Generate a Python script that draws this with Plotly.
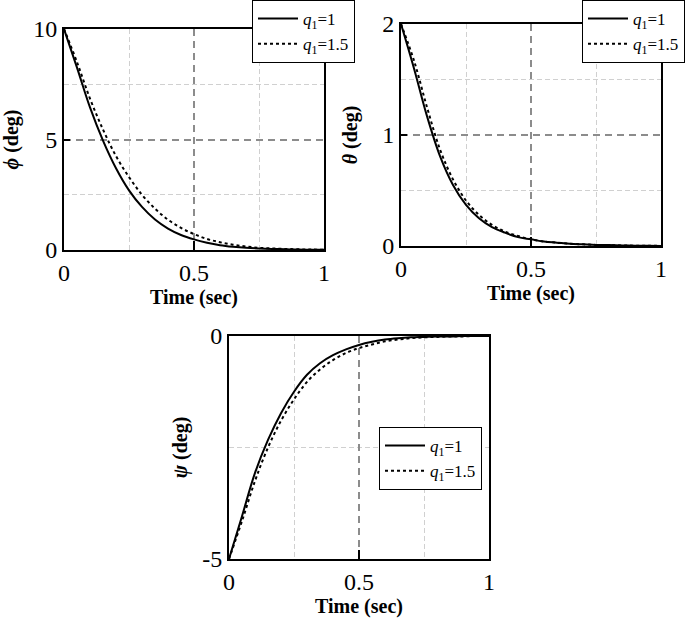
import plotly.graph_objects as go

t = [0, 0.05, 0.1, 0.15, 0.2, 0.25, 0.3, 0.35, 0.4, 0.45, 0.5, 0.55, 0.6, 0.65, 0.7, 0.75, 0.8, 0.85, 0.9, 0.95, 1.0]

phi_q1 = [10, 8.25, 6.45, 4.95, 3.7, 2.7, 1.95, 1.38, 0.97, 0.68, 0.48, 0.33, 0.22, 0.15, 0.1, 0.07, 0.05, 0.03, 0.02, 0.01, 0.01]
phi_q15 = [10, 8.5, 6.85, 5.45, 4.25, 3.3, 2.5, 1.87, 1.37, 1.0, 0.72, 0.5, 0.35, 0.24, 0.16, 0.1, 0.07, 0.05, 0.03, 0.02, 0.01]

theta_q1 = [2, 1.6, 1.17, 0.81, 0.55, 0.37, 0.25, 0.17, 0.12, 0.08, 0.06, 0.04, 0.03, 0.02, 0.015, 0.01, 0.008, 0.005, 0.003, 0.002, 0.001]
theta_q15 = [2, 1.67, 1.25, 0.87, 0.6, 0.41, 0.28, 0.19, 0.13, 0.09, 0.06, 0.04, 0.03, 0.02, 0.015, 0.01, 0.008, 0.005, 0.003, 0.002, 0.001]

psi_q1 = [-5, -4.04, -3.07, -2.33, -1.73, -1.25, -0.87, -0.61, -0.43, -0.3, -0.2, -0.13, -0.08, -0.05, -0.03, -0.02, -0.01, -0.01, 0, 0, 0]
psi_q15 = [-5, -4.15, -3.25, -2.5, -1.9, -1.42, -1.03, -0.75, -0.54, -0.38, -0.27, -0.19, -0.12, -0.08, -0.05, -0.03, -0.02, -0.01, -0.01, 0, 0]

labels = ["<i>q</i><sub>1</sub>=1", "<i>q</i><sub>1</sub>=1.5"]
FONT = "Liberation Serif, Times New Roman, serif"

W, H = 685, 620
def px_x(a, b):
    return [a / W, b / W]
def px_y(top, bottom):
    return [1 - bottom / H, 1 - top / H]

fig = go.Figure()

panels = [
    ("x", "y", "legend", phi_q1, phi_q15),
    ("x2", "y2", "legend2", theta_q1, theta_q15),
    ("x3", "y3", "legend3", psi_q1, psi_q15),
]
for xa, ya, lg, s1, s2 in panels:
    fig.add_trace(go.Scatter(x=t, y=s1, mode="lines", name=labels[0], xaxis=xa, yaxis=ya, legend=lg,
                             line=dict(color="black", width=2, shape="spline", smoothing=1.0)))
    fig.add_trace(go.Scatter(x=t, y=s2, mode="lines", name=labels[1], xaxis=xa, yaxis=ya, legend=lg,
                             line=dict(color="black", width=2, dash="dot", shape="spline", smoothing=1.0)))

MAJ = dict(showgrid=True, gridcolor="#8c8c8c", griddash="7px,5px", gridwidth=2)
def minor(vals):
    return dict(tickvals=vals, showgrid=True, gridcolor="#d0d0d0", griddash="5px,3px", gridwidth=1.3)

def xax(domain, anchor):
    return dict(domain=domain, anchor=anchor, range=[0, 1], tickvals=[0, 0.5, 1], ticktext=["0", "0.5", "1"],
                automargin=False,
                showline=True, mirror=True, linecolor="black", linewidth=2,
                minor=minor([0.25, 0.75]),
                ticks="inside", ticklen=9, tickcolor="black", tickwidth=2,
                zeroline=False, tickfont=dict(family=FONT, size=24, color="black"),
                title=dict(text="<b>Time (sec)</b>", font=dict(family=FONT, size=20, color="black"), standoff=0),
                **MAJ)

def yax(domain, anchor, rng, major, minor_vals, title, standoff):
    return dict(domain=domain, anchor=anchor, range=rng, tickvals=major, ticktext=[str(v) for v in major],
                automargin=False,
                showline=True, mirror=True, linecolor="black", linewidth=2,
                minor=minor(minor_vals),
                ticks="inside", ticklen=6, tickcolor="black", tickwidth=2,
                zeroline=False, tickfont=dict(family=FONT, size=24, color="black"),
                title=dict(text=title, font=dict(family=FONT, size=20, color="black"), standoff=standoff),
                **MAJ)

leg_common = dict(bgcolor="white", bordercolor="black", borderwidth=1, xanchor="left", yanchor="top",
                  font=dict(family=FONT, size=17, color="black"), tracegroupgap=0, itemwidth=40)

fig.update_layout(
    width=W, height=H, margin=dict(l=0, r=0, t=0, b=0, autoexpand=False),
    paper_bgcolor="white", plot_bgcolor="white",
    xaxis=xax(px_x(64, 324), "y"),
    yaxis=yax(px_y(29, 250), "x", [0, 10], [0, 5, 10], [2.5, 7.5], "<b><i>ϕ</i> (deg)</b>", 25),
    xaxis2=xax(px_x(401, 661), "y2"),
    yaxis2=yax(px_y(24, 246), "x2", [0, 2], [0, 1, 2], [0.5, 1.5], "<b><i>θ</i> (deg)</b>", 19),
    xaxis3=xax(px_x(229, 489), "y3"),
    yaxis3=yax(px_y(336, 559), "x3", [-5, 0], [-5, 0], [-2.5], "<b><i>ψ</i> (deg)</b>", 9),
    legend=dict(x=252 / W, y=1.0, **leg_common),
    legend2=dict(x=582 / W, y=1.0, **leg_common),
    legend3=dict(x=379 / W, y=1 - 427 / H, **leg_common),
    showlegend=True,
)

fig.write_html("out.html", config={"displayModeBar": False},
               post_script="document.body.style.margin='0';document.body.style.overflow='hidden';")
